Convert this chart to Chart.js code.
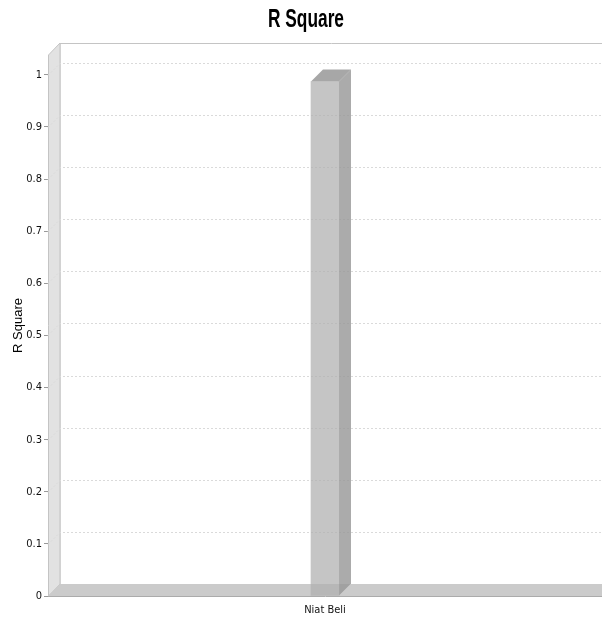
<!DOCTYPE html>
<html>
<head>
<meta charset="utf-8">
<script src="https://cdn.jsdelivr.net/npm/chart.js@4.4.1/dist/chart.umd.min.js"></script>
<style>
  html, body { margin: 0; padding: 0; background: #fff; }
  #canvasRSquare { display: block; }
</style>
</head>
<body>
<canvas id="canvasRSquare" width="602" height="620"></canvas>
<script>
var chartTitle = 'R Square';
var axisTitle = 'R Square';
var categories = ['Niat Beli'];
var rSquareValues = [0.987];
var yTickValues = [0, 0.1, 0.2, 0.3, 0.4, 0.5, 0.6, 0.7, 0.8, 0.9, 1];

var DEPTH_X = 12, DEPTH_Y = 12;
var narrow = '"Liberation Sans Narrow", "Arial Narrow", "DejaVu Sans Condensed", sans-serif';

function poly(ctx, pts, fill, stroke) {
    ctx.beginPath();
    ctx.moveTo(pts[0][0], pts[0][1]);
    for (let i = 1; i < pts.length; i++) ctx.lineTo(pts[i][0], pts[i][1]);
    ctx.closePath();
    if (fill) { ctx.fillStyle = fill; ctx.fill(); }
    if (stroke) { ctx.strokeStyle = stroke; ctx.lineWidth = 1; ctx.stroke(); }
}

// condensed bold title (no narrow font installed, so squeeze Liberation Sans)
var narrowTitle = {
    id: 'narrowTitle',
    afterDraw: function (chart) {
        let ctx = chart.ctx;
        ctx.save();
        ctx.font = 'bold 25px "Liberation Sans", Arial, sans-serif';
        ctx.fillStyle = '#000';
        ctx.textAlign = 'center';
        ctx.textBaseline = 'alphabetic';
        let w = ctx.measureText(chartTitle).width;
        ctx.translate(chart.width / 2 + 5, 27);
        ctx.scale(76 / w, 1);
        ctx.fillText(chartTitle, 0, 0);
        ctx.restore();
    }
};

// walls, floor, back gridlines and the 3d faces of the bars
var plot3d = {
    id: 'plot3d',
    beforeDatasetsDraw: function (chart) {
        let ctx = chart.ctx;
        let a = chart.chartArea;
        let y = chart.scales.y;
        let l = a.left, r = a.right + DEPTH_X, t = a.top, b = a.bottom;
        ctx.save();
        // back plane border
        ctx.strokeStyle = '#c4c4c4';
        ctx.beginPath();
        ctx.moveTo(l + DEPTH_X, b - DEPTH_Y);
        ctx.lineTo(l + DEPTH_X, t - DEPTH_Y + 0.5);
        ctx.lineTo(r, t - DEPTH_Y + 0.5);
        ctx.stroke();
        // left wall
        poly(ctx, [[l + 0.5, t], [l + DEPTH_X, t - DEPTH_Y], [l + DEPTH_X, b - DEPTH_Y], [l + 0.5, b]], '#e2e2e2', '#c4c4c4');
        // gridlines
        ctx.setLineDash([2, 2]);
        ctx.strokeStyle = '#dadada';
        yTickValues.forEach(function (v) {
            if (v === 0) return;
            let py = Math.round(y.getPixelForValue(v)) + 0.5;
            ctx.beginPath();
            ctx.moveTo(l, py);
            ctx.lineTo(l + DEPTH_X, py - DEPTH_Y);
            ctx.lineTo(r, py - DEPTH_Y);
            ctx.stroke();
        });
        ctx.setLineDash([]);
        // floor
        poly(ctx, [[l, b], [l + DEPTH_X, b - DEPTH_Y], [r + 20, b - DEPTH_Y], [r + 8, b]], '#cbcbcb', null);
        ctx.strokeStyle = '#ababab';
        ctx.beginPath();
        ctx.moveTo(l, b + 0.5);
        ctx.lineTo(r, b + 0.5);
        ctx.stroke();
        // bar side and top
        chart.getDatasetMeta(0).data.forEach(function (bar) {
            let p = bar.getProps(['x', 'y', 'base', 'width'], true);
            let bl = p.x - p.width / 2, br = p.x + p.width / 2;
            poly(ctx, [[br, p.y], [br + DEPTH_X, p.y - DEPTH_Y], [br + DEPTH_X, p.base - DEPTH_Y], [br, p.base]], 'rgba(150,150,150,0.8)', null);
            poly(ctx, [[bl, p.y], [bl + DEPTH_X, p.y - DEPTH_Y], [br + DEPTH_X, p.y - DEPTH_Y], [br, p.y]], 'rgba(145,145,145,0.8)', null);
        });
        ctx.restore();
    }
};

var config = {
    type: 'bar',
    data: {
        labels: categories,
        datasets: [{
            label: 'R Square',
            data: rSquareValues,
            backgroundColor: 'rgba(176,176,176,0.73)',
            borderWidth: 0,
            barThickness: 28
        }]
    },
    options: {
        responsive: false,
        animation: false,
        layout: { padding: { left: 0, right: 0, top: 55, bottom: 0 } },
        plugins: {
            legend: { display: false },
            tooltip: { enabled: false },
            title: { display: false }
        },
        scales: {
            x: {
                grid: { display: false },
                border: { display: false },
                ticks: { color: '#111', font: { family: narrow, size: 11 }, padding: 0 },
                afterFit: function (s) { s.height = 24; }
            },
            y: {
                min: 0,
                max: 1.038,
                afterBuildTicks: function (s) {
                    s.ticks = yTickValues.map(function (v) { return { value: v }; });
                },
                grid: { drawOnChartArea: false, drawTicks: true, tickLength: 4, color: '#999' },
                border: { display: false },
                ticks: {
                    color: '#111',
                    padding: 2,
                    font: { family: narrow, size: 11 },
                    callback: function (v) { return String(v); }
                },
                title: {
                    display: true,
                    text: axisTitle,
                    color: '#000',
                    font: { family: '"Liberation Sans", Arial, sans-serif', size: 13 },
                    padding: { top: 11, bottom: 0 }
                },
                afterFit: function (s) { s.width = 48; }
            }
        }
    },
    plugins: [plot3d, narrowTitle]
};

var myChartRSquare = new Chart(document.getElementById('canvasRSquare').getContext('2d'), config);
</script>
</body>
</html>
